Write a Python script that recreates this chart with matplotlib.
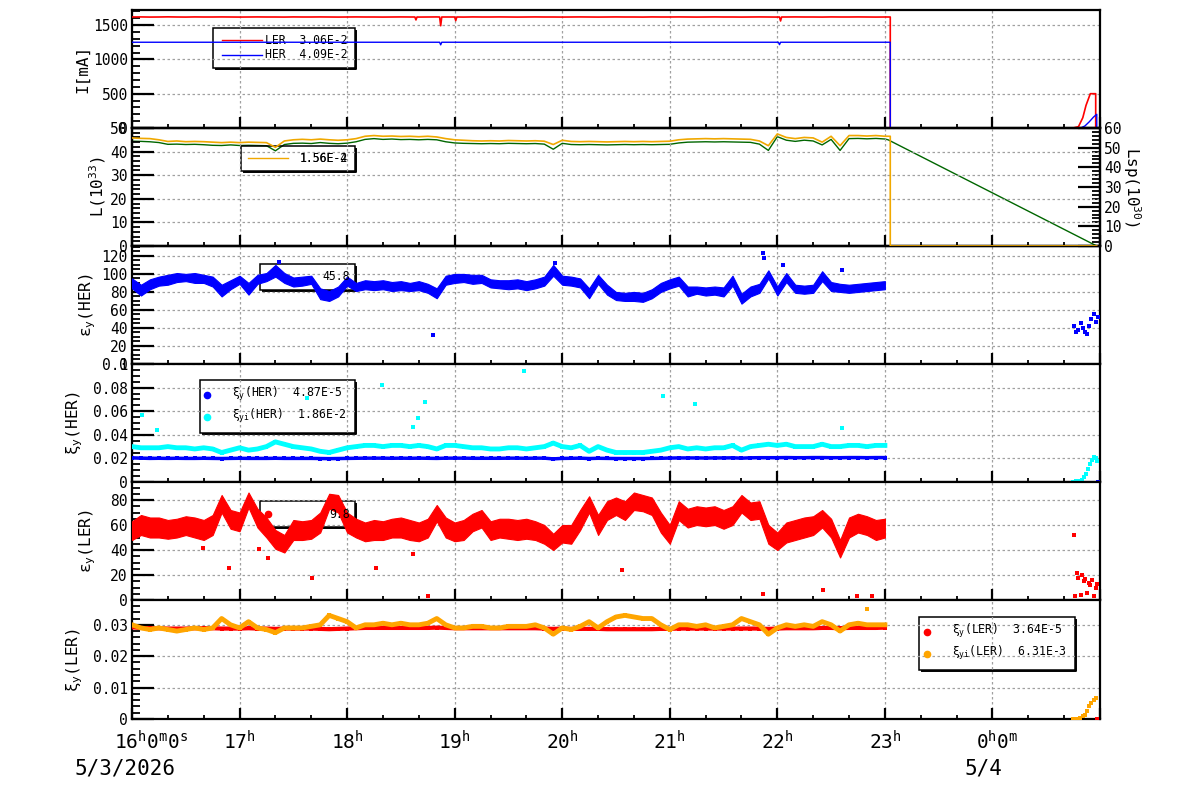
import numpy as np
import matplotlib
matplotlib.use('Agg')
import matplotlib.pyplot as plt
import matplotlib.transforms as mtrans
from matplotlib.ticker import MultipleLocator, AutoMinorLocator, FuncFormatter
from matplotlib.patches import Rectangle
from matplotlib.lines import Line2D

W, H = 1200, 798
plt.rcParams.update({
    'font.family': 'DejaVu Sans Mono',
    'mathtext.fontset': 'custom',
    'mathtext.rm': 'DejaVu Sans Mono',
    'mathtext.it': 'DejaVu Sans Mono',
    'mathtext.bf': 'DejaVu Sans Mono:bold',
    'font.size': 10.5,
})

# ---- data (time in hours since 16:00 on 5/3/2026, 5-min readings) ----
t = np.arange(85) * 5 / 60.0

ler_cur = [1618, 1619, 1617, 1618, 1620, 1618, 1617, 1619, 1618, 1618,
           1619, 1618, 1617, 1618, 1619, 1618, 1618, 1617, 1619, 1618,
           1618, 1619, 1618, 1617, 1618, 1619, 1618, 1618, 1617, 1618,
           1619, 1618, 1617, 1618, 1619, 1618, 1618, 1617, 1619, 1618,
           1618, 1619, 1618, 1617, 1618, 1619, 1618, 1618, 1617, 1618,
           1619, 1618, 1617, 1618, 1619, 1618, 1618, 1617, 1619, 1618,
           1618, 1619, 1618, 1617, 1618, 1619, 1618, 1618, 1617, 1618,
           1619, 1618, 1617, 1618, 1619, 1618, 1618, 1617, 1619, 1618,
           1618, 1619, 1618, 1617, 1618]
her_cur = [1250] * 85
ler_dip_t = [2.63, 2.64, 2.65, 2.86, 2.87, 2.88, 3.00, 3.01, 3.02, 6.02, 6.03, 6.04]
ler_dip = [1618, 1575, 1618, 1618, 1490, 1618, 1618, 1565, 1618, 1618, 1560, 1618]
her_dip_t = [2.86, 2.87, 2.88, 6.01, 6.02, 6.03]
her_dip = [1250, 1212, 1250, 1250, 1215, 1250]
ler_tail_t = [7.05, 7.05, 8.75, 8.80, 8.84, 8.87, 8.91, 8.96, 8.96, 9.0]
ler_tail = [1618, 0, 0, 20, 150, 330, 500, 500, 0, 0]
her_tail_t = [7.05, 7.05, 8.82, 8.86, 8.90, 8.94, 8.97, 8.97, 9.0]
her_tail = [1250, 0, 0, 30, 90, 160, 200, 0, 0]

lum = [45.8, 45.6, 45.5, 45.0, 44.3, 44.5, 44.2, 44.3, 44.2, 44.0,
       43.8, 44.0, 43.8, 44.0, 43.9, 43.8, 41.8, 44.5, 45.0, 45.2,
       45.0, 45.3, 45.0, 44.8, 45.0, 45.5, 46.5, 46.8, 46.5, 46.6,
       46.4, 46.5, 46.3, 46.5, 46.2, 45.5, 45.0, 44.8, 44.6, 44.5,
       44.6, 44.5, 44.7, 44.6, 44.5, 44.6, 44.4, 43.0, 44.8, 44.3,
       44.2, 44.3, 44.2, 44.1, 44.2, 44.3, 44.2, 44.3, 44.2, 44.3,
       44.4, 45.0, 45.3, 45.4, 45.5, 45.4, 45.5, 45.4, 45.3, 45.2,
       44.5, 42.5, 47.5, 46.0, 45.5, 46.0, 45.8, 44.0, 46.5, 42.5,
       46.8, 46.8, 46.6, 46.8, 46.5]
lum_tail_t = [7.05, 7.05, 8.97]
lum_tail = [46.5, 0, 0]
lsp = [53.3, 53.2, 53.0, 52.6, 51.7, 51.8, 51.6, 51.7, 51.5, 51.2,
       51.1, 51.4, 51.1, 51.2, 51.1, 51.0, 48.4, 51.6, 52.2, 52.3,
       52.1, 52.6, 52.2, 52.0, 52.3, 53.0, 54.2, 54.6, 54.2, 54.4,
       54.1, 54.2, 54.0, 54.2, 54.0, 53.0, 52.4, 52.2, 52.1, 52.0,
       52.1, 52.0, 52.2, 52.1, 52.0, 52.1, 51.8, 49.2, 52.2, 51.6,
       51.5, 51.6, 51.5, 51.4, 51.5, 51.6, 51.5, 51.6, 51.5, 51.6,
       51.7, 52.4, 52.8, 52.9, 53.0, 52.9, 53.0, 52.9, 52.8, 52.7,
       51.8, 48.6, 55.6, 53.8, 53.2, 53.8, 53.4, 51.4, 54.2, 48.6,
       54.6, 54.7, 54.5, 54.7, 54.4]
lsp_tail_t = [7.03, 8.97]
lsp_tail = [54.0, 0.0]

# HER vertical emittance: upper / lower edge of the point cloud
her_emit_hi = [95, 88, 94, 97, 99, 101, 100, 101, 99, 97,
               88, 93, 98, 90, 99, 101, 110, 101, 96, 97,
               98, 84, 81, 86, 97, 90, 93, 92, 93, 91,
               92, 90, 92, 89, 84, 98, 100, 100, 99, 99,
               94, 93, 93, 94, 92, 94, 97, 110, 98, 97,
               95, 84, 99, 88, 80, 79, 80, 79, 83, 90,
               94, 97, 86, 86, 85, 86, 85, 98, 78, 86,
               89, 104, 86, 101, 88, 87, 88, 103, 91, 89,
               88, 89, 90, 91, 92]
her_emit_lo = [84, 76, 83, 87, 88, 91, 92, 90, 90, 86,
               75, 83, 89, 77, 89, 92, 97, 90, 86, 87,
               89, 72, 70, 75, 87, 81, 83, 82, 83, 81,
               82, 81, 82, 79, 73, 88, 90, 91, 89, 90,
               85, 84, 83, 84, 82, 84, 87, 98, 88, 87,
               85, 73, 89, 77, 71, 70, 70, 69, 73, 80,
               84, 87, 75, 78, 76, 77, 75, 87, 67, 75,
               79, 95, 76, 91, 79, 78, 79, 92, 81, 80,
               79, 80, 81, 82, 83]
her_emit_out_t = [1.37, 2.80, 3.93, 5.87, 5.88, 6.05, 6.60]
her_emit_out = [113, 32, 112, 123, 118, 110, 104]
her_emit_end_t = [8.76, 8.78, 8.80, 8.82, 8.84, 8.86, 8.88, 8.90, 8.92, 8.94, 8.96, 8.98]
her_emit_end = [42, 35, 38, 45, 40, 36, 33, 42, 50, 56, 47, 52]

xi_her = [0.0205, 0.0202, 0.0200, 0.0201, 0.0200, 0.0201, 0.0200, 0.0200, 0.0201, 0.0200,
          0.0199, 0.0200, 0.0201, 0.0200, 0.0200, 0.0200, 0.0201, 0.0200, 0.0200, 0.0200,
          0.0200, 0.0199, 0.0198, 0.0199, 0.0200, 0.0201, 0.0202, 0.0202, 0.0202, 0.0201,
          0.0202, 0.0201, 0.0202, 0.0201, 0.0200, 0.0202, 0.0202, 0.0202, 0.0201, 0.0201,
          0.0201, 0.0201, 0.0202, 0.0202, 0.0201, 0.0202, 0.0202, 0.0196, 0.0200, 0.0201,
          0.0202, 0.0199, 0.0201, 0.0200, 0.0199, 0.0199, 0.0199, 0.0199, 0.0200, 0.0201,
          0.0203, 0.0204, 0.0204, 0.0204, 0.0203, 0.0204, 0.0204, 0.0205, 0.0202, 0.0205,
          0.0206, 0.0206, 0.0206, 0.0207, 0.0206, 0.0206, 0.0207, 0.0207, 0.0206, 0.0206,
          0.0207, 0.0207, 0.0206, 0.0207, 0.0207]
xii_her = [0.030, 0.029, 0.029, 0.029, 0.030, 0.029, 0.029, 0.028, 0.029, 0.028,
           0.025, 0.027, 0.029, 0.027, 0.028, 0.030, 0.034, 0.032, 0.030, 0.029,
           0.028, 0.026, 0.025, 0.027, 0.029, 0.030, 0.031, 0.031, 0.030, 0.031,
           0.031, 0.030, 0.031, 0.030, 0.028, 0.031, 0.031, 0.030, 0.029, 0.029,
           0.028, 0.028, 0.029, 0.029, 0.028, 0.029, 0.030, 0.033, 0.030, 0.029,
           0.031, 0.026, 0.030, 0.027, 0.025, 0.025, 0.025, 0.025, 0.026, 0.027,
           0.029, 0.030, 0.028, 0.029, 0.028, 0.029, 0.029, 0.031, 0.027, 0.030,
           0.031, 0.032, 0.031, 0.032, 0.030, 0.030, 0.030, 0.032, 0.030, 0.030,
           0.031, 0.031, 0.030, 0.031, 0.031]
xii_her_out_t = [0.09, 0.23, 1.63, 2.32, 2.61, 2.66, 2.72, 3.64, 4.94, 5.23, 6.60]
xii_her_out = [0.057, 0.044, 0.071, 0.082, 0.047, 0.054, 0.068, 0.094, 0.073, 0.066, 0.046]
xii_her_end_t = [8.75, 8.78, 8.81, 8.83, 8.85, 8.87, 8.89, 8.91, 8.93, 8.94, 8.96, 8.97]
xii_her_end = [0.000, 0.0005, 0.001, 0.002, 0.004, 0.007, 0.011, 0.015, 0.019, 0.021, 0.020, 0.018]
xi_her_end_t = [8.98]
xi_her_end = [0.0]

# LER vertical emittance: upper / lower edge of the point cloud
ler_emit_hi = [63, 68, 66, 66, 64, 65, 67, 66, 64, 68,
               84, 72, 70, 86, 73, 66, 56, 52, 64, 63,
               64, 70, 85, 84, 70, 65, 62, 64, 63, 65,
               66, 64, 62, 65, 76, 66, 62, 64, 69, 72,
               63, 65, 65, 64, 65, 63, 60, 53, 60, 60,
               72, 83, 68, 79, 82, 79, 86, 84, 82, 70,
               60, 79, 73, 75, 74, 75, 72, 75, 84, 78,
               79, 60, 54, 62, 64, 66, 67, 72, 65, 48,
               66, 69, 67, 64, 65]
ler_emit_lo = [48, 52, 50, 50, 49, 50, 52, 50, 48, 52,
               70, 57, 55, 74, 58, 50, 41, 38, 48, 48,
               49, 54, 73, 70, 54, 50, 47, 48, 48, 50,
               50, 48, 47, 50, 63, 50, 47, 48, 55, 58,
               48, 50, 49, 48, 49, 48, 45, 40, 46, 45,
               56, 70, 52, 64, 68, 64, 72, 71, 68, 54,
               45, 64, 58, 60, 59, 60, 57, 60, 70, 64,
               65, 45, 40, 46, 48, 50, 52, 58, 50, 34,
               50, 54, 52, 48, 50]
ler_emit_out_t = [0.66, 0.90, 1.18, 1.26, 1.67, 2.27, 2.61, 2.75, 4.56, 5.87, 6.42, 6.74, 6.88]
ler_emit_out = [42, 26, 41, 34, 18, 26, 37, 3, 24, 5, 8, 3, 3]
ler_emit_end_t = [8.76, 8.77, 8.79, 8.80, 8.82, 8.83, 8.85, 8.86, 8.88, 8.90, 8.91, 8.93, 8.94, 8.96, 8.97]
ler_emit_end = [52, 3, 22, 18, 4, 20, 15, 17, 6, 14, 12, 16, 3, 10, 13]

xi_ler = [0.0292, 0.0290, 0.0289, 0.0289, 0.0288, 0.0288, 0.0288, 0.0289, 0.0289, 0.0289,
          0.0288, 0.0288, 0.0288, 0.0289, 0.0288, 0.0288, 0.0287, 0.0288, 0.0288, 0.0288,
          0.0288, 0.0287, 0.0286, 0.0287, 0.0288, 0.0289, 0.0290, 0.0290, 0.0290, 0.0290,
          0.0290, 0.0290, 0.0290, 0.0290, 0.0291, 0.0290, 0.0289, 0.0289, 0.0289, 0.0289,
          0.0289, 0.0289, 0.0289, 0.0289, 0.0289, 0.0289, 0.0288, 0.0287, 0.0288, 0.0287,
          0.0287, 0.0287, 0.0287, 0.0286, 0.0286, 0.0286, 0.0286, 0.0286, 0.0286, 0.0287,
          0.0287, 0.0288, 0.0288, 0.0288, 0.0288, 0.0288, 0.0288, 0.0288, 0.0288, 0.0288,
          0.0288, 0.0287, 0.0288, 0.0289, 0.0289, 0.0289, 0.0289, 0.0290, 0.0290, 0.0289,
          0.0290, 0.0290, 0.0290, 0.0290, 0.0291]
xii_ler = [0.0300, 0.0290, 0.0285, 0.0290, 0.0285, 0.0280, 0.0285, 0.0290, 0.0285, 0.0290,
           0.0320, 0.0300, 0.0290, 0.0310, 0.0290, 0.0285, 0.0275, 0.0290, 0.0290, 0.0290,
           0.0295, 0.0300, 0.0330, 0.0320, 0.0310, 0.0290, 0.0300, 0.0300, 0.0305, 0.0300,
           0.0305, 0.0300, 0.0300, 0.0305, 0.0320, 0.0300, 0.0290, 0.0290, 0.0295, 0.0295,
           0.0290, 0.0290, 0.0295, 0.0295, 0.0295, 0.0300, 0.0290, 0.0270, 0.0290, 0.0285,
           0.0295, 0.0310, 0.0290, 0.0310, 0.0325, 0.0330, 0.0325, 0.0320, 0.0320, 0.0300,
           0.0285, 0.0300, 0.0300, 0.0295, 0.0300, 0.0290, 0.0295, 0.0300, 0.0320, 0.0310,
           0.0300, 0.0270, 0.0290, 0.0300, 0.0295, 0.0300, 0.0295, 0.0310, 0.0300, 0.0280,
           0.0300, 0.0305, 0.0300, 0.0300, 0.0300]
xii_ler_out_t = [6.83]
xii_ler_out = [0.0350]
xii_ler_end_t = [8.75, 8.78, 8.81, 8.84, 8.86, 8.88, 8.90, 8.92, 8.94, 8.96]
xii_ler_end = [0.0, 0.0001, 0.0003, 0.0008, 0.0012, 0.0025, 0.0040, 0.0052, 0.0062, 0.0068]
xi_ler_end_t = [8.97]
xi_ler_end = [0.0]

RED, BLUE, CYAN, ORANGE, GREEN = '#ff0000', '#0000ff', '#00ffff', '#ffa500', '#006600'
LUMC = '#f0a800'

fig = plt.figure(figsize=(W / 100, H / 100), dpi=100)
fig.patch.set_facecolor('white')

edges = [10, 128, 246, 364, 482, 600, 719]
axes = []
for i in range(6):
    ax = fig.add_axes([132 / W, 1 - edges[i + 1] / H, 968 / W, (edges[i + 1] - edges[i]) / H])
    axes.append(ax)


def style(ax, ymax, ymaj, nminor):
    ax.set_xlim(0, 9)
    ax.set_ylim(0, ymax)
    ax.xaxis.set_major_locator(MultipleLocator(1))
    ax.xaxis.set_minor_locator(MultipleLocator(1 / 3))
    ax.yaxis.set_major_locator(MultipleLocator(ymaj))
    ax.yaxis.set_minor_locator(AutoMinorLocator(nminor))
    ax.yaxis.set_major_formatter(FuncFormatter(lambda v, p: f'{v:g}'))
    ax.tick_params(axis='x', which='both', direction='in', bottom=True, top=False, labelbottom=False)
    ax.tick_params(axis='x', which='major', length=8, width=1.6)
    ax.tick_params(axis='x', which='minor', length=3, width=1.3)
    ax.tick_params(axis='y', which='both', direction='in', left=True, right=False)
    ax.tick_params(axis='y', which='major', length=16, width=1.6, labelsize=10.5, pad=3)
    ax.tick_params(axis='y', which='minor', length=6, width=1.3)
    ax.grid(True, which='major', color='#a0a0a0', ls=(0, (2, 2)), lw=0.9)
    for s in ax.spines.values():
        s.set_linewidth(1.6)


def fx(x):
    return x / W


def fy(y):
    return 1 - y / H


def box(ax, x0, y0, x1, y1):
    ax.add_patch(Rectangle((fx(x0), fy(y1)), fx(x1 - x0), (y1 - y0) / H, transform=fig.transFigure,
                           fill=False, ec='black', lw=1.1, zorder=1.5))
    ax.add_line(Line2D([fx(x0 + 3), fx(x1 + 1), fx(x1 + 1)], [fy(y1 + 1), fy(y1 + 1), fy(y0 + 3)],
                       transform=fig.transFigure, color='black', lw=1.4, zorder=1.5))


def ltext(ax, x, y, s, ha='left', size=8.3, z=1.6):
    ax.text(fx(x), fy(y), s, transform=fig.transFigure, ha=ha, va='center', fontsize=size, zorder=z)


def lmark(ax, x, y, c):
    ax.plot([fx(x)], [fy(y)], 'o', ms=4.5, color=c, transform=fig.transFigure, clip_on=False, zorder=1.6)


def lline(ax, x0, x1, y, c):
    ax.add_line(Line2D([fx(x0), fx(x1)], [fy(y), fy(y)], transform=fig.transFigure, color=c, lw=1.0, zorder=1.6))


def cloud(ax, hi, lo, extra_t, extra_v, color, s):
    ax.fill_between(t, lo, hi, color=color, lw=0.8, ec=color, zorder=3)
    ax.scatter(extra_t, extra_v, marker='s', s=s, color=color, lw=0, zorder=3)


# ---- panel 1: currents ----
ax = axes[0]
style(ax, 1720, 500, 5)
lt = np.concatenate([t, ler_dip_t]); lv = np.concatenate([ler_cur, ler_dip]); o = np.argsort(lt, kind='stable')
ax.plot(np.r_[lt[o], ler_tail_t], np.r_[lv[o], ler_tail], color=RED, lw=1.2, zorder=3)
ht = np.concatenate([t, her_dip_t]); hv = np.concatenate([her_cur, her_dip]); o = np.argsort(ht, kind='stable')
ax.plot(np.r_[ht[o], her_tail_t], np.r_[hv[o], her_tail], color=BLUE, lw=1.0, zorder=3)
box(ax, 213, 28, 355, 68)
lline(ax, 222, 262, 40, RED); ltext(ax, 265, 40, 'LER  3.06E-2')
lline(ax, 222, 262, 55, BLUE); ltext(ax, 265, 55, 'HER  4.09E-2')

# ---- panel 2: luminosity ----
ax = axes[1]
style(ax, 50, 10, 5)
ax2 = ax.twinx()
ax2.set_xlim(0, 9)
ax2.set_ylim(0, 60)
ax2.yaxis.set_major_locator(MultipleLocator(10))
ax2.yaxis.set_minor_locator(AutoMinorLocator(5))
ax2.tick_params(axis='y', which='both', direction='in', right=True, left=False)
ax2.tick_params(axis='y', which='major', length=16, width=1.6, labelsize=10.5, pad=3)
ax2.tick_params(axis='y', which='minor', length=6, width=1.3)
for s in ax2.spines.values():
    s.set_linewidth(1.6)
ax2.plot(np.r_[t, lsp_tail_t], np.r_[lsp, lsp_tail], color=GREEN, lw=1.0, zorder=2)
ax.plot(np.r_[t, lum_tail_t], np.r_[lum, lum_tail], color=LUMC, lw=1.2, zorder=3)
ax.set_zorder(ax2.get_zorder() + 1)
ax.patch.set_visible(False)
box(ax, 241, 146, 355, 171)
lline(ax, 248, 288, 158, LUMC)
ltext(ax, 300, 158, '1.56E-2'); ltext(ax, 300, 158, '1.56E-4')

# ---- panel 3: HER emittance ----
ax = axes[2]
style(ax, 131, 20, 4)
cloud(ax, her_emit_hi, her_emit_lo,
      np.r_[her_emit_out_t, her_emit_end_t], np.r_[her_emit_out, her_emit_end], BLUE, 12)
box(ax, 260, 264, 355, 290)
ltext(ax, 350, 277, '45.8', ha='right', z=4)

# ---- panel 4: HER beam-beam ----
ax = axes[3]
style(ax, 0.1, 0.02, 4)
ax.plot(t, xii_her, color=CYAN, lw=3.5, zorder=3)
ax.scatter(np.r_[t, xii_her_out_t, xii_her_end_t], np.r_[xii_her, xii_her_out, xii_her_end],
           marker='s', s=10, color=CYAN, lw=0, zorder=3)
ax.plot(t, xi_her, color=BLUE, lw=2.5, zorder=4)
ax.scatter(np.r_[t, xi_her_end_t], np.r_[xi_her, xi_her_end], marker='s', s=8, color=BLUE, lw=0, zorder=4)
box(ax, 200, 380, 355, 433)
lmark(ax, 207, 395, BLUE); ltext(ax, 232, 394, r'$\xi_y$(HER)  4.87E-5')
lmark(ax, 207, 417, CYAN); ltext(ax, 232, 416, r'$\xi_{yi}$(HER)  1.86E-2')

# ---- panel 5: LER emittance ----
ax = axes[4]
style(ax, 94.4, 20, 4)
cloud(ax, ler_emit_hi, ler_emit_lo,
      np.r_[ler_emit_out_t, ler_emit_end_t], np.r_[ler_emit_out, ler_emit_end], RED, 12)
box(ax, 260, 501, 355, 527)
lmark(ax, 268, 514, RED)
ltext(ax, 350, 515, '9.8', ha='right', z=4)

# ---- panel 6: LER beam-beam ----
ax = axes[5]
style(ax, 0.0379, 0.01, 5)
ax.plot(t, xi_ler, color=RED, lw=3, zorder=3)
ax.scatter(np.r_[t, xi_ler_end_t], np.r_[xi_ler, xi_ler_end], marker='s', s=8, color=RED, lw=0, zorder=3)
ax.plot(t, xii_ler, color=ORANGE, lw=3.5, zorder=4)
ax.scatter(np.r_[t, xii_ler_out_t, xii_ler_end_t], np.r_[xii_ler, xii_ler_out, xii_ler_end],
           marker='s', s=10, color=ORANGE, lw=0, zorder=4)
box(ax, 919, 617, 1075, 670)
lmark(ax, 927, 632, RED); ltext(ax, 952, 631, r'$\xi_y$(LER)  3.64E-5')
lmark(ax, 927, 654, ORANGE); ltext(ax, 952, 653, r'$\xi_{yi}$(LER)  6.31E-3')

# ---- axis titles ----
ylabels = [('I[mA]', 83, 69), ('L(10$^{33}$)', 98, 187), (r'$\epsilon_y$(HER)', 88, 305),
           (r'$\xi_y$(HER)', 75, 423), (r'$\epsilon_y$(LER)', 88, 541), (r'$\xi_y$(LER)', 75, 660)]
for s, x, y in ylabels:
    fig.text(fx(x), fy(y), s, rotation=90, ha='center', va='center', fontsize=11.5)
fig.text(fx(1132), fy(187), 'Lsp(10$^{30}$)', rotation=270, ha='center', va='center', fontsize=11.5)

# ---- time axis labels ----
axb = axes[5]
bt = mtrans.blended_transform_factory(axb.transData, fig.transFigure)
for hr in range(1, 8):
    fig.text(hr, fy(742), f'{16 + hr}' + r'$^{\mathrm{h}}$', transform=bt, ha='center', va='center', fontsize=14)
fig.text(0, fy(742), r'16$^{\mathrm{h}}$0$^{\mathrm{m}}$0$^{\mathrm{s}}$',
         transform=mtrans.offset_copy(bt, fig=fig, x=-18, y=0, units='dots'), ha='left', va='center', fontsize=14)
fig.text(8, fy(742), r'0$^{\mathrm{h}}$0$^{\mathrm{m}}$',
         transform=mtrans.offset_copy(bt, fig=fig, x=-16, y=0, units='dots'), ha='left', va='center', fontsize=14)
fig.text(fx(75), fy(768), '5/3/2026', ha='left', va='center', fontsize=15)
fig.text(fx(965), fy(768), '5/4', ha='left', va='center', fontsize=15)

fig.savefig('out.png', dpi=100)
